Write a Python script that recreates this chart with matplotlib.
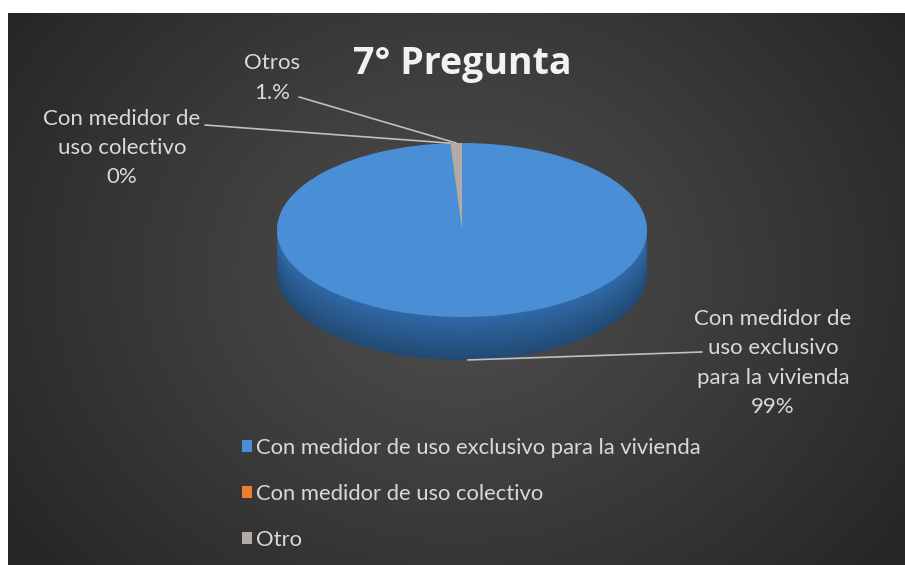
import numpy as np
import matplotlib
matplotlib.use("Agg")
import matplotlib.pyplot as plt
from matplotlib.colors import LinearSegmentedColormap, to_rgb

# datos del grafico
categorias = ["Con medidor de uso exclusivo para la vivienda",
              "Con medidor de uso colectivo",
              "Otro"]
valores = [99, 0, 1]
etiquetas = ["Con medidor de\nuso exclusivo\npara la vivienda\n99%",
             "Con medidor de\nuso colectivo\n0%",
             "Otros\n1.%"]
titulo = "7° Pregunta"

colores = ["#4a8ed6", "#ed7d31", "#b4aba6"]
colores_lado = ["#3069a6", "#b25d24", "#7f7a77"]

plt.rcParams["font.family"] = ["Lato", "DejaVu Sans"]

W, H = 905, 565
fig = plt.figure(figsize=(W / 100, H / 100), dpi=100)
fig.patch.set_facecolor("white")

# fondo con degradado radial
bg = fig.add_axes([8 / W, 0, (W - 8) / W, (H - 13) / H])
yy, xx = np.mgrid[0:552, 0:897]
r = np.clip(np.hypot(xx - 450, (yy - 260) / 0.85) / 560, 0, 1)
cmap_bg = LinearSegmentedColormap.from_list("bg", ["#4f4f4f", "#3b3b3b", "#252525"])
bg.imshow(r, cmap=cmap_bg, aspect="auto", interpolation="bilinear")
bg.axis("off")

# pastel en 3D (elipse con grosor)
cx, cy, rx, ry, th = 462, 230, 185, 87, 43
grosor = th / ry
ax = fig.add_axes([(cx - rx) / W, (H - (cy + ry + th)) / H, 2 * rx / W, (2 * ry + th) / H])

n = 40
for k in range(n, 0, -1):
    f = k / n
    cols = []
    for c in colores_lado:
        rgb = np.array(to_rgb(c))
        cols.append(tuple(rgb * (1 - 0.3 * f)))
    ax.pie(valores, colors=cols, startangle=90, counterclock=False,
           center=(0, -grosor * f), radius=1, frame=True,
           wedgeprops=dict(linewidth=0))
wedges, _ = ax.pie(valores, colors=colores, startangle=90, counterclock=False,
                   center=(0, 0), radius=1, frame=True,
                   wedgeprops=dict(linewidth=0))
ax.set_aspect("auto")
ax.set_xlim(-1, 1)
ax.set_ylim(-1 - grosor, 1)
ax.axis("off")

# etiquetas de datos con lineas guia
col_txt = "#d9d9d9"
pos_txt = [(773, 363), (122, 148), (272, 78)]
inicio_linea = [(702, 352), (205, 125), (299, 97)]
total = sum(valores)
ang = 90
for i, v in enumerate(valores):
    a1 = ang - 360 * v / total
    mid = np.radians((ang + a1) / 2)
    ang = a1
    px, py = np.cos(mid), np.sin(mid)
    if py < 0:
        py = py - grosor
    fig.text(pos_txt[i][0] / W, 1 - pos_txt[i][1] / H, etiquetas[i],
             ha="center", va="center", multialignment="center",
             fontsize=16, color=col_txt, linespacing=1.58)
    ax.annotate("", xy=(px, py), xycoords="data",
                xytext=(inicio_linea[i][0], H - inicio_linea[i][1]),
                textcoords="figure pixels",
                arrowprops=dict(arrowstyle="-", color="#bfbfbf", lw=1.2,
                                shrinkA=0, shrinkB=0))

fig.text(462 / W, 1 - 64 / H, titulo, ha="center", va="center",
         fontsize=27, fontweight="bold", color="#f2f2f2",
         family=["Open Sans", "DejaVu Sans"])

fig.legend(wedges, categorias, loc="upper left",
           bbox_to_anchor=(242 / W, 1 - 438 / H), frameon=False,
           fontsize=15.8, labelcolor=col_txt, handlelength=0.45, handleheight=0.45,
           handletextpad=0.2, labelspacing=1.18, borderpad=0, borderaxespad=0)

fig.savefig("out.png", dpi=100)
